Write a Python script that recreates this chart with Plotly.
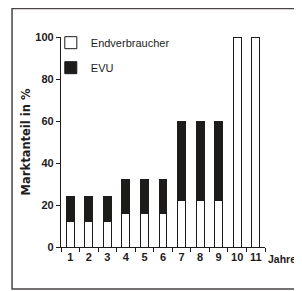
import plotly.graph_objects as go

jahre = ["1", "2", "3", "4", "5", "6", "7", "8", "9", "10", "11"]
endverbraucher = [12, 12, 12, 16, 16, 16, 22, 22, 22, 100, 100]
evu = [12, 12, 12, 16, 16, 16, 38, 38, 38, 0, 0]
y_ticks = [0, 20, 40, 60, 80, 100]

ink = "#1e1b1b"
font = "Liberation Sans, Arial, sans-serif"

fig = go.Figure()
fig.add_trace(go.Bar(
    x=jahre, y=endverbraucher, name="Endverbraucher",
    marker=dict(color="white", line=dict(color=ink, width=1)),
    legendgroup="a",
))
fig.add_trace(go.Bar(
    x=jahre, y=evu, name="EVU",
    marker=dict(color=ink, line=dict(color=ink, width=1)),
    legendgroup="b",
))

# page body has an 8px margin, so the figure is sized to fit the window
fig.update_layout(
    width=294, height=283,
    margin=dict(l=53, r=37, t=29, b=44),
    barmode="stack", bargap=0.57,
    plot_bgcolor="white", paper_bgcolor="white",
    font=dict(family=font, color=ink, size=11),
    showlegend=True,
    legend=dict(x=-0.05, y=1.042, xanchor="left", yanchor="top",
                traceorder="grouped", tracegroupgap=6,
                font=dict(size=11, family=font, color=ink),
                bgcolor="rgba(0,0,0,0)"),
    xaxis=dict(type="category", tickson="boundaries", ticks="outside",
               ticklen=4, tickcolor=ink, showline=True, linecolor=ink,
               linewidth=1.2, showgrid=False, tickangle=0, automargin=False,
               tickfont=dict(size=11, family=font, weight="bold")),
    yaxis=dict(range=[0, 100], tickvals=y_ticks, ticks="outside",
               ticklen=4, tickcolor=ink, showline=True, linecolor=ink,
               linewidth=1.2, showgrid=False, zeroline=False, automargin=False,
               tickfont=dict(size=11, family=font, weight="bold"),
               title=dict(text="Marktanteil in %", standoff=2,
                          font=dict(size=11.5, family="DejaVu Sans, sans-serif",
                                    weight="bold"))),
)

fig.add_annotation(text="<b>Jahre</b>", xref="paper", yref="paper",
                   x=1.005, y=-0.02, xanchor="left", yanchor="top",
                   showarrow=False, font=dict(size=10.5, family=font, color=ink))

fig.add_shape(type="rect", xref="paper", yref="paper",
              x0=-0.24, x1=1.16, y0=-0.2, y1=1.136,
              line=dict(color="#4a4444", width=1.5), layer="below")

fig.write_html("out.html")
